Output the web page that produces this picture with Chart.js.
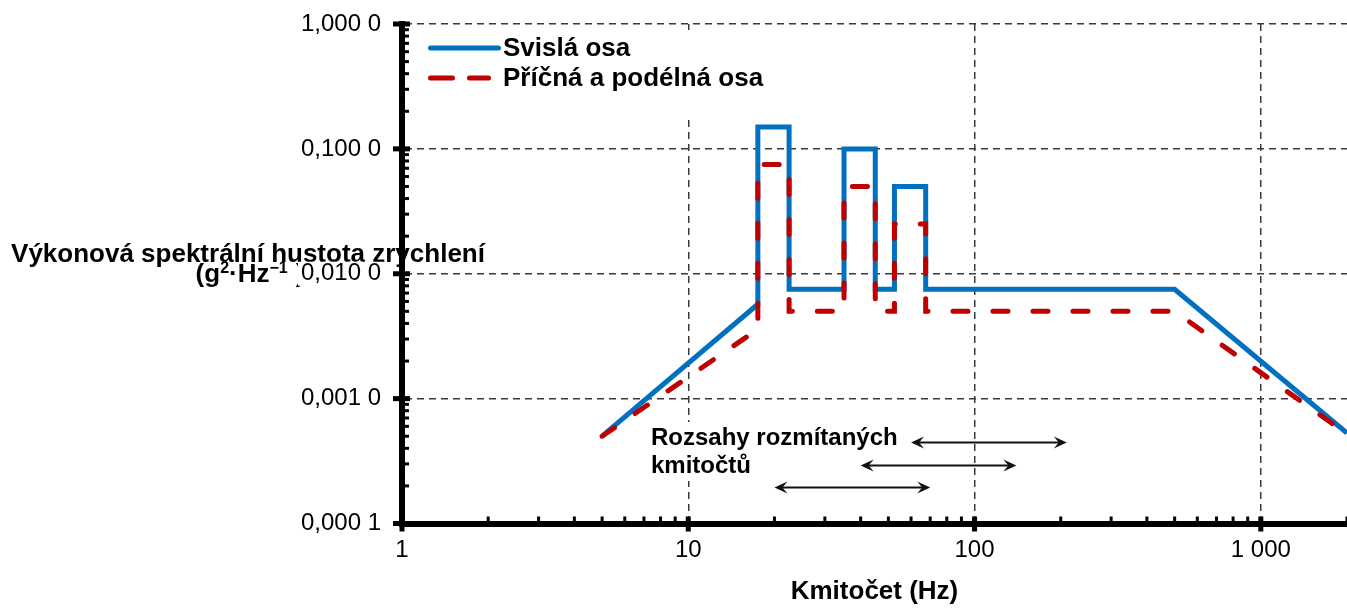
<!DOCTYPE html>
<html lang="cs">
<head>
<meta charset="utf-8">
<title>Výkonová spektrální hustota zrychlení</title>
<script src="https://cdn.jsdelivr.net/npm/chart.js@4.4.1/dist/chart.umd.min.js"></script>
<style>
  html, body { margin: 0; padding: 0; background: #ffffff; overflow: hidden; }
  #wrap { position: relative; width: 1347px; height: 608px; }
  canvas { display: block; }
</style>
</head>
<body>
<div id="wrap"><canvas id="psd" width="1347" height="608"></canvas></div>
<script>
// ---- Profile data -------------------------------------------------------
// Breakpoint frequencies (Hz), shared by both profiles
const freqHz = [5, 17.5, 17.5, 22.5, 22.5, 35, 35, 45, 45, 52.5, 52.5, 67.5, 67.5, 500, 2000];
// Vertical axis PSD (g²/Hz)
const verticalPsd = [0.0005, 0.0057, 0.15, 0.15, 0.0075, 0.0075, 0.1, 0.1, 0.0075, 0.0075, 0.05, 0.05, 0.0075, 0.0075, 0.00053];
// Transverse and longitudinal axis PSD (g²/Hz)
const lateralPsd = [0.0005, 0.0036, 0.075, 0.075, 0.005, 0.005, 0.05, 0.05, 0.005, 0.005, 0.025, 0.025, 0.005, 0.005, 0.00052];
const seriesNames = ['Svislá osa', 'Příčná a podélná osa'];

// Swept sine frequency ranges (Hz), top row first
const sweepStart = [60, 40, 20];
const sweepEnd = [210, 140, 70];
const sweepCaption = ['Rozsahy rozmítaných', 'kmitočtů'];

// Axis ticks and labels
const xMajorTicks = [1, 10, 100, 1000];
const xTickLabels = ['1', '10', '100', '1 000'];
const yMajorTicks = [0.0001, 0.001, 0.01, 0.1, 1];
const yTickLabels = ['0,000 1', '0,001 0', '0,010 0', '0,100 0', '1,000 0'];
const minorSteps = [2, 3, 4, 5, 6, 7, 8, 9];
const xRange = [1, 2000];
const yRange = [0.0001, 1];

const xTitle = 'Kmitočet (Hz)';
const yTitleLine1 = 'Výkonová spektrální hustota zrychlení';

// ---- Helpers ------------------------------------------------------------
const FONT = "'Liberation Sans', Arial, Helvetica, sans-serif";
const BLUE = '#0070c0';
const RED = '#c00000';

function decadeTicks(majors, max) {
  const out = [];
  majors.forEach(d => {
    out.push({ value: d, major: true });
    minorSteps.forEach(m => {
      const v = d * m;
      if (v <= max * 1.000001) out.push({ value: v, major: false });
    });
  });
  return out;
}
const xTickList = decadeTicks(xMajorTicks, xRange[1]);
const yTickList = decadeTicks(yMajorTicks, yRange[1]);

function labelFor(majors, labels, v) {
  const i = majors.indexOf(v);
  return i >= 0 ? labels[i] : '';
}

function toPoints(xs, ys) {
  return xs.map((x, i) => ({ x: x, y: ys[i] }));
}

const majorOnly = (ctx) => !!(ctx.tick && ctx.tick.major);
const gridColor = (ctx) => majorOnly(ctx) ? '#3a3a3a' : 'rgba(0,0,0,0)';

function drawRich(ctx, segs, x, y) {
  let total = 0;
  segs.forEach(s => { ctx.font = s.font; s.w = ctx.measureText(s.t).width; total += s.w + (s.gap || 0); });
  let cx = x - total / 2;
  segs.forEach(s => {
    cx += (s.gap || 0);
    ctx.font = s.font;
    ctx.fillText(s.t, cx, y - (s.rise || 0));
    cx += s.w;
  });
}

function stealthHead(ctx, x, y, dir) {
  // dir = +1 points right, -1 points left
  ctx.beginPath();
  ctx.moveTo(x, y);
  ctx.lineTo(x - dir * 13, y - 6);
  ctx.lineTo(x - dir * 8, y);
  ctx.lineTo(x - dir * 13, y + 6);
  ctx.closePath();
  ctx.fill();
}

// ---- Decorations: axis title, legend, sweep annotation, tick marks -----
const decor = {
  id: 'decor',
  beforeDraw(chart) {
    const ctx = chart.ctx;
    ctx.save();
    ctx.fillStyle = '#000';
    ctx.textBaseline = 'alphabetic';
    ctx.textAlign = 'center';
    ctx.font = `bold 26px ${FONT}`;
    ctx.fillText(yTitleLine1, 248, 262);
    ctx.textAlign = 'left';
    const big = `bold 26px ${FONT}`;
    const sup = `bold 16px ${FONT}`;
    drawRich(ctx, [
      { t: '(g', font: big },
      { t: '2', font: sup, rise: 9 },
      { t: '·Hz', font: big },
      { t: '\u22121', font: sup, rise: 9 },
      { t: ')', font: big, gap: 8 }
    ], 250, 282);
    ctx.restore();
  },
  beforeDatasetsDraw(chart) {
    const ctx = chart.ctx;
    const a = chart.chartArea;
    ctx.save();
    ctx.fillStyle = '#ffffff';
    // legend panel
    ctx.fillRect(a.left + 8, a.top + 6, 372, 90);
    // caption panel
    ctx.fillRect(a.left + 243, 422, 255, 59);
    ctx.restore();
  },
  afterDatasetsDraw(chart) {
    const ctx = chart.ctx;
    const a = chart.chartArea;
    const xs = chart.scales.x;
    const ys = chart.scales.y;
    ctx.save();

    // legend
    const lx = a.left + 28.5;
    ctx.lineWidth = 5;
    ctx.lineCap = 'round';
    ctx.strokeStyle = BLUE;
    ctx.beginPath(); ctx.moveTo(lx, 48); ctx.lineTo(lx + 68, 48); ctx.stroke();
    ctx.strokeStyle = RED;
    ctx.setLineDash([22, 17]);
    ctx.beginPath(); ctx.moveTo(lx, 78); ctx.lineTo(lx + 58, 78); ctx.stroke();
    ctx.setLineDash([]);
    ctx.fillStyle = '#000';
    ctx.font = `bold 26px ${FONT}`;
    ctx.textAlign = 'left';
    ctx.textBaseline = 'alphabetic';
    ctx.fillText(seriesNames[0], a.left + 101, 56);
    ctx.fillText(seriesNames[1], a.left + 101, 86);

    // sweep caption
    ctx.font = `bold 24px ${FONT}`;
    ctx.fillText(sweepCaption[0], a.left + 249, 445);
    ctx.fillText(sweepCaption[1], a.left + 249, 473);

    // sweep range arrows
    const rowLevels = [0.000452, 0.000294, 0.000197];
    ctx.strokeStyle = '#111';
    ctx.fillStyle = '#111';
    ctx.lineWidth = 2;
    ctx.lineCap = 'butt';
    sweepStart.forEach((f0, i) => {
      const x1 = xs.getPixelForValue(f0);
      const x2 = xs.getPixelForValue(sweepEnd[i]);
      const y = Math.round(ys.getPixelForValue(rowLevels[i])) + 0.5;
      ctx.beginPath(); ctx.moveTo(x1 + 6, y); ctx.lineTo(x2 - 6, y); ctx.stroke();
      stealthHead(ctx, x1, y, -1);
      stealthHead(ctx, x2, y, 1);
    });
    ctx.restore();
  },
  afterDraw(chart) {
    // tick marks: minor ticks inside the plot, major ticks crossing the axis
    const ctx = chart.ctx;
    const a = chart.chartArea;
    const xs = chart.scales.x;
    const ys = chart.scales.y;
    ctx.save();
    ctx.fillStyle = '#000';
    xs.ticks.forEach(t => {
      const px = xs.getPixelForValue(t.value);
      if (t.major) ctx.fillRect(px - 2.5, a.bottom - 7, 5, 15);
      else ctx.fillRect(px - 1.5, a.bottom - 7, 3, 7);
    });
    ys.ticks.forEach(t => {
      const py = ys.getPixelForValue(t.value);
      if (t.major) ctx.fillRect(a.left - 9, py - 2.5, 17, 5);
      else ctx.fillRect(a.left, py - 1.5, 7, 3);
    });
    ctx.restore();
  }
};

// ---- Chart --------------------------------------------------------------
new Chart(document.getElementById('psd'), {
  type: 'scatter',
  data: {
    datasets: [
      {
        label: seriesNames[0],
        data: toPoints(freqHz, verticalPsd),
        showLine: true,
        borderColor: BLUE,
        backgroundColor: BLUE,
        borderWidth: 5,
        pointRadius: 0,
        pointHoverRadius: 0,
        tension: 0,
        fill: false,
        borderJoinStyle: 'miter',
        order: 2
      },
      {
        label: seriesNames[1],
        data: toPoints(freqHz, lateralPsd),
        showLine: true,
        borderColor: RED,
        backgroundColor: RED,
        borderWidth: 5,
        borderDash: [15, 25],
        borderCapStyle: 'round',
        pointRadius: 0,
        pointHoverRadius: 0,
        tension: 0,
        fill: false,
        order: 1
      }
    ]
  },
  options: {
    responsive: false,
    animation: false,
    devicePixelRatio: 1,
    events: [],
    layout: { padding: { top: 24, right: 0, bottom: 0, left: 0 } },
    plugins: {
      legend: { display: false },
      tooltip: { enabled: false },
      title: { display: false }
    },
    scales: {
      x: {
        type: 'logarithmic',
        position: 'bottom',
        min: xRange[0],
        max: xRange[1],
        afterBuildTicks: (s) => { s.ticks = xTickList.map(t => ({ value: t.value, major: t.major })); },
        afterFit: (s) => { s.height = 84.5; s.paddingLeft = 0; s.paddingRight = 0; },
        grid: { color: gridColor, lineWidth: 1.5, drawTicks: false },
        border: { display: true, color: '#000', width: 6, dash: [7, 5] },
        ticks: {
          autoSkip: false,
          maxRotation: 0,
          minRotation: 0,
          padding: 15,
          color: '#000',
          font: { family: FONT, size: 24, lineHeight: 1 },
          callback: (v) => labelFor(xMajorTicks, xTickLabels, v)
        },
        title: {
          display: true,
          text: xTitle,
          color: '#000',
          font: { family: FONT, size: 26, weight: 'bold', lineHeight: 1.2 },
          padding: { top: 0, bottom: 1 }
        }
      },
      y: {
        type: 'logarithmic',
        position: 'left',
        min: yRange[0],
        max: yRange[1],
        afterBuildTicks: (s) => { s.ticks = yTickList.map(t => ({ value: t.value, major: t.major })); },
        afterFit: (s) => { s.width = 402; s.paddingTop = 0; s.paddingBottom = 0; },
        grid: { color: gridColor, lineWidth: 1.5, drawTicks: false },
        border: { display: true, color: '#000', width: 6, dash: [7, 5] },
        ticks: {
          autoSkip: false,
          padding: 21,
          color: '#000',
          font: { family: FONT, size: 24, lineHeight: 1 },
          showLabelBackdrop: majorOnly,
          backdropColor: '#ffffff',
          backdropPadding: { top: 0, bottom: 0, left: 3, right: 3 },
          callback: (v) => labelFor(yMajorTicks, yTickLabels, v)
        },
        title: { display: false }
      }
    }
  },
  plugins: [decor]
});
</script>
</body>
</html>
